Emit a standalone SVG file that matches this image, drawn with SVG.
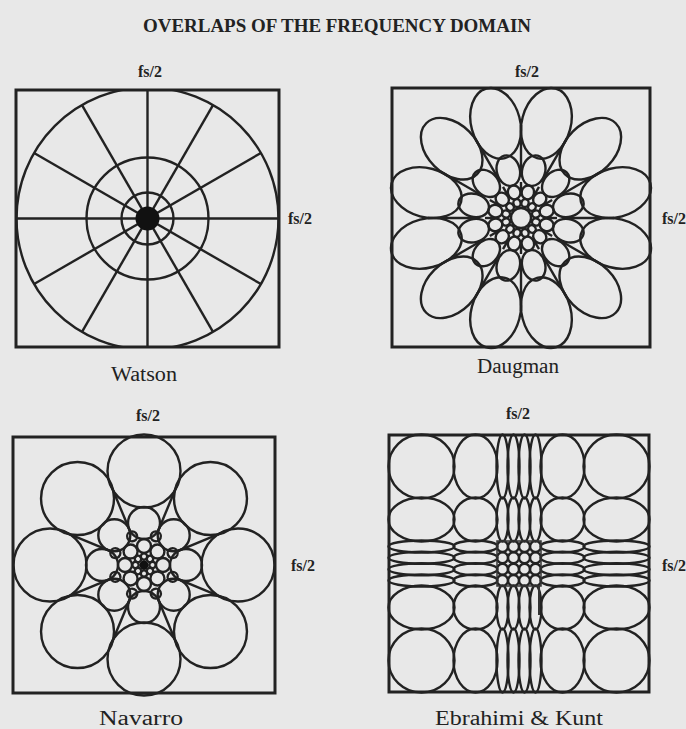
<svg xmlns="http://www.w3.org/2000/svg" width="686" height="729" viewBox="0 0 686 729">
<style>
.bg{fill:#e8e8e8}
.ln{fill:none;stroke:#222;stroke-width:2.4}
.box{fill:none;stroke:#222;stroke-width:3}
.t{font-family:"Liberation Serif",serif;fill:#222}
.lab{font-size:16px;font-weight:bold}
.nm{font-size:20px}
</style>
<defs>
<clipPath id="wclip"><rect x="16" y="90" width="263" height="257"/></clipPath>
<g id="dspoke">
<ellipse class="ln" rx="36" ry="24.5" transform="rotate(15) translate(98 0)"/>
<ellipse class="ln" rx="15.5" ry="11.5" transform="rotate(15) translate(49 0)"/>
<ellipse class="ln" rx="7" ry="6.2" transform="rotate(15) translate(26.5 0)"/>
<ellipse class="ln" rx="4" ry="3.6" transform="rotate(15) translate(15.5 0)"/>
<line class="ln" x1="48" y1="0" x2="93" y2="0"/>
<line class="ln" x1="25" y1="0" x2="36" y2="0"/>
</g>
<g id="nspoke">
<circle class="ln" cx="94" cy="0" r="36.5"/>
<circle class="ln" cx="42" cy="0" r="16"/>
<circle class="ln" cx="19" cy="0" r="7"/>
<circle class="ln" cx="8.5" cy="0" r="3.2"/>
<circle class="ln" r="5" transform="rotate(22.5) translate(31 0)"/>
<line class="ln" x1="37" y1="0" x2="86" y2="0" transform="rotate(22.5)"/>
</g>
</defs>
<rect class="bg" x="0" y="0" width="686" height="729"/>
<text class="t" x="337" y="32" font-size="18" font-weight="bold" text-anchor="middle" textLength="388" lengthAdjust="spacingAndGlyphs">OVERLAPS OF THE FREQUENCY DOMAIN</text>

<g id="watson">
<text class="t lab" x="150" y="77" text-anchor="middle">fs/2</text>
<text class="t lab" x="288" y="224">fs/2</text>
<g clip-path="url(#wclip)">
<circle class="ln" cx="147.5" cy="218.5" r="131"/>
</g>
<circle class="ln" cx="147.5" cy="218.5" r="61"/>
<circle class="ln" cx="147.5" cy="218.5" r="26"/>
<g transform="translate(147.5 218.5)">
<line class="ln" x1="0" y1="-128.5" x2="0" y2="128.5"/>
<line class="ln" x1="-131" y1="0" x2="131" y2="0"/>
<line class="ln" x1="-113.4" y1="-65.5" x2="113.4" y2="65.5"/>
<line class="ln" x1="-113.4" y1="65.5" x2="113.4" y2="-65.5"/>
<line class="ln" x1="-65.5" y1="-113.4" x2="65.5" y2="113.4"/>
<line class="ln" x1="-65.5" y1="113.4" x2="65.5" y2="-113.4"/>
</g>
<circle cx="147.5" cy="218.5" r="12" fill="#111"/>
<rect class="box" x="16" y="90" width="263" height="257"/>
<text class="t nm" x="144" y="381" text-anchor="middle" textLength="66" lengthAdjust="spacingAndGlyphs">Watson</text>
</g>

<g id="daugman">
<text class="t lab" x="527" y="77" text-anchor="middle">fs/2</text>
<text class="t lab" x="662" y="224">fs/2</text>
<g transform="translate(521 218)">
<use href="#dspoke"/>
<use href="#dspoke" transform="rotate(30)"/>
<use href="#dspoke" transform="rotate(60)"/>
<use href="#dspoke" transform="rotate(90)"/>
<use href="#dspoke" transform="rotate(120)"/>
<use href="#dspoke" transform="rotate(150)"/>
<use href="#dspoke" transform="rotate(180)"/>
<use href="#dspoke" transform="rotate(210)"/>
<use href="#dspoke" transform="rotate(240)"/>
<use href="#dspoke" transform="rotate(270)"/>
<use href="#dspoke" transform="rotate(300)"/>
<use href="#dspoke" transform="rotate(330)"/>
<circle class="ln" r="10"/>
</g>
<rect class="box" x="392" y="88" width="258" height="259"/>
<text class="t nm" x="518" y="373" text-anchor="middle" textLength="82" lengthAdjust="spacingAndGlyphs">Daugman</text>
</g>

<g id="navarro">
<text class="t lab" x="148" y="421" text-anchor="middle">fs/2</text>
<text class="t lab" x="291" y="571">fs/2</text>
<g transform="translate(144 565)">
<use href="#nspoke"/>
<use href="#nspoke" transform="rotate(45)"/>
<use href="#nspoke" transform="rotate(90)"/>
<use href="#nspoke" transform="rotate(135)"/>
<use href="#nspoke" transform="rotate(180)"/>
<use href="#nspoke" transform="rotate(225)"/>
<use href="#nspoke" transform="rotate(270)"/>
<use href="#nspoke" transform="rotate(315)"/>
<circle r="4.5" fill="#111"/>
</g>
<rect class="box" x="13" y="437" width="262" height="256"/>
<text class="t nm" x="141" y="725" text-anchor="middle" textLength="84" lengthAdjust="spacingAndGlyphs">Navarro</text>
</g>

<g id="ebrahimi">
<text class="t lab" x="518" y="419" text-anchor="middle">fs/2</text>
<text class="t lab" x="662" y="571">fs/2</text>
<g class="ln">
<ellipse cx="421.5" cy="466.5" rx="33" ry="32"/><ellipse cx="475.5" cy="466.5" rx="22" ry="32"/><ellipse cx="502.5" cy="466.5" rx="6" ry="32"/><ellipse cx="513.5" cy="466.5" rx="6" ry="32"/><ellipse cx="524.5" cy="466.5" rx="6" ry="32"/><ellipse cx="535.5" cy="466.5" rx="6" ry="32"/><ellipse cx="562.5" cy="466.5" rx="22" ry="32"/><ellipse cx="616.5" cy="466.5" rx="33" ry="32"/>
<ellipse cx="421.5" cy="519.5" rx="33" ry="22"/><ellipse cx="475.5" cy="519.5" rx="22" ry="22"/><ellipse cx="502.5" cy="519.5" rx="6" ry="22"/><ellipse cx="513.5" cy="519.5" rx="6" ry="22"/><ellipse cx="524.5" cy="519.5" rx="6" ry="22"/><ellipse cx="535.5" cy="519.5" rx="6" ry="22"/><ellipse cx="562.5" cy="519.5" rx="22" ry="22"/><ellipse cx="616.5" cy="519.5" rx="33" ry="22"/>
<ellipse cx="421.5" cy="546.5" rx="33" ry="6"/><ellipse cx="475.5" cy="546.5" rx="22" ry="6"/><ellipse cx="562.5" cy="546.5" rx="22" ry="6"/><ellipse cx="616.5" cy="546.5" rx="33" ry="6"/>
<ellipse cx="421.5" cy="557.8" rx="33" ry="6"/><ellipse cx="475.5" cy="557.8" rx="22" ry="6"/><ellipse cx="562.5" cy="557.8" rx="22" ry="6"/><ellipse cx="616.5" cy="557.8" rx="33" ry="6"/>
<ellipse cx="421.5" cy="569.3" rx="33" ry="6"/><ellipse cx="475.5" cy="569.3" rx="22" ry="6"/><ellipse cx="562.5" cy="569.3" rx="22" ry="6"/><ellipse cx="616.5" cy="569.3" rx="33" ry="6"/>
<ellipse cx="421.5" cy="580.5" rx="33" ry="6"/><ellipse cx="475.5" cy="580.5" rx="22" ry="6"/><ellipse cx="562.5" cy="580.5" rx="22" ry="6"/><ellipse cx="616.5" cy="580.5" rx="33" ry="6"/>
<ellipse cx="421.5" cy="607.5" rx="33" ry="22"/><ellipse cx="475.5" cy="607.5" rx="22" ry="22"/><ellipse cx="502.5" cy="607.5" rx="6" ry="22"/><ellipse cx="513.5" cy="607.5" rx="6" ry="22"/><ellipse cx="524.5" cy="607.5" rx="6" ry="22"/><ellipse cx="535.5" cy="607.5" rx="6" ry="22"/><ellipse cx="562.5" cy="607.5" rx="22" ry="22"/><ellipse cx="616.5" cy="607.5" rx="33" ry="22"/>
<ellipse cx="421.5" cy="660.5" rx="33" ry="32"/><ellipse cx="475.5" cy="660.5" rx="22" ry="32"/><ellipse cx="502.5" cy="660.5" rx="6" ry="32"/><ellipse cx="513.5" cy="660.5" rx="6" ry="32"/><ellipse cx="524.5" cy="660.5" rx="6" ry="32"/><ellipse cx="535.5" cy="660.5" rx="6" ry="32"/><ellipse cx="562.5" cy="660.5" rx="22" ry="32"/><ellipse cx="616.5" cy="660.5" rx="33" ry="32"/>
<circle cx="502.5" cy="546.5" r="5.5"/><circle cx="513.5" cy="546.5" r="5.5"/><circle cx="524.5" cy="546.5" r="5.5"/><circle cx="535.5" cy="546.5" r="5.5"/>
<circle cx="502.5" cy="557.8" r="5.5"/><circle cx="513.5" cy="557.8" r="5.5"/><circle cx="524.5" cy="557.8" r="5.5"/><circle cx="535.5" cy="557.8" r="5.5"/>
<circle cx="502.5" cy="569.3" r="5.5"/><circle cx="513.5" cy="569.3" r="5.5"/><circle cx="524.5" cy="569.3" r="5.5"/><circle cx="535.5" cy="569.3" r="5.5"/>
<circle cx="502.5" cy="580.5" r="5.5"/><circle cx="513.5" cy="580.5" r="5.5"/><circle cx="524.5" cy="580.5" r="5.5"/><circle cx="535.5" cy="580.5" r="5.5"/>
</g>
<rect x="497" y="541" width="44" height="45" fill="none" stroke="#333" stroke-width="1.5"/>
<line x1="539" y1="586" x2="539" y2="615" stroke="#333" stroke-width="2"/>
<rect class="box" x="389" y="435" width="260" height="257"/>
<text class="t nm" x="519" y="725" text-anchor="middle" textLength="168" lengthAdjust="spacingAndGlyphs">Ebrahimi &amp; Kunt</text>
</g>
</svg>
